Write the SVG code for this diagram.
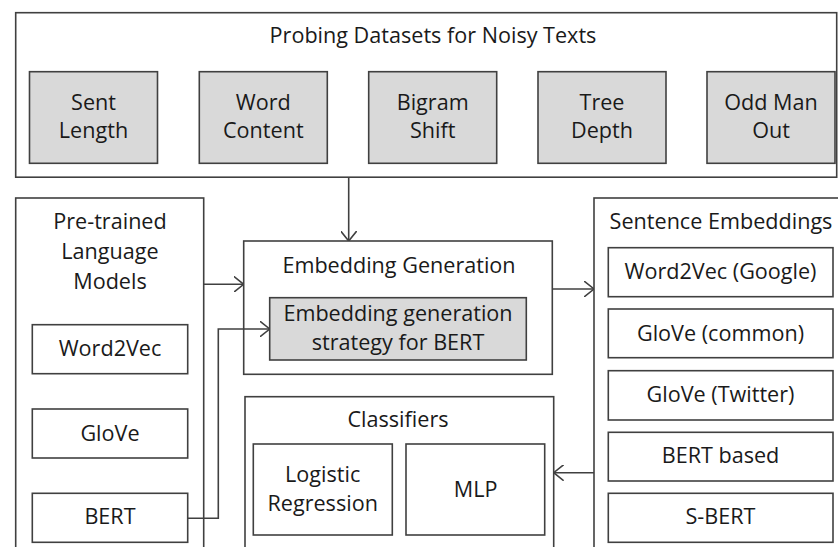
<svg xmlns="http://www.w3.org/2000/svg" width="838" height="547" viewBox="0 0 838 547">
<style>
.box{fill:#fff;stroke:#404040;stroke-width:1.6}
.gray{fill:#d9d9d9;stroke:#404040;stroke-width:1.6}
.t{font-family:"Open Sans","Liberation Sans",sans-serif;font-size:21.6px;fill:#1a1a1a;text-anchor:middle}
.c{fill:none;stroke:#404040;stroke-width:1.6}
</style>
<defs>
<marker id="ah" viewBox="0 0 10 16" refX="10" refY="8" markerWidth="10" markerHeight="16" markerUnits="userSpaceOnUse" orient="auto">
<path d="M0,0 L10,8 L0,16" fill="none" stroke="#404040" stroke-width="1.6"/>
</marker>
</defs>
<rect width="838" height="547" fill="#fff"/>
<g id="probing">
<rect class="box" x="15.7" y="12.7" width="821" height="164.5"/>
<text class="t" x="433" y="43">Probing Datasets for Noisy Texts</text>
</g>
<g id="sent-length"><rect class="gray" x="29.5" y="71.7" width="128" height="91.6"/><text class="t" x="93.5" y="110">Sent</text><text class="t" x="93.5" y="138">Length</text></g>
<g id="word-content"><rect class="gray" x="199.3" y="71.7" width="128" height="91.6"/><text class="t" x="263.3" y="110">Word</text><text class="t" x="263.3" y="138">Content</text></g>
<g id="bigram-shift"><rect class="gray" x="368.7" y="71.7" width="128" height="91.6"/><text class="t" x="432.7" y="110">Bigram</text><text class="t" x="432.7" y="138">Shift</text></g>
<g id="tree-depth"><rect class="gray" x="538" y="71.7" width="128" height="91.6"/><text class="t" x="602" y="110">Tree</text><text class="t" x="602" y="138">Depth</text></g>
<g id="odd-man-out"><rect class="gray" x="707" y="71.7" width="128" height="91.6"/><text class="t" x="771" y="110">Odd Man</text><text class="t" x="771" y="138">Out</text></g>

<g id="pretrained">
<rect class="box" x="15.7" y="198" width="188" height="360"/>
<text class="t" x="110" y="229">Pre-trained</text>
<text class="t" x="110" y="259">Language</text>
<text class="t" x="110" y="289">Models</text>
</g>
<g id="word2vec"><rect class="box" x="32.3" y="324.7" width="155.4" height="49"/><text class="t" x="110" y="356">Word2Vec</text></g>
<g id="glove"><rect class="box" x="32.3" y="409" width="155.4" height="49"/><text class="t" x="110" y="441">GloVe</text></g>
<g id="bert"><rect class="box" x="32.3" y="493.3" width="155.4" height="49"/><text class="t" x="110" y="524">BERT</text></g>

<g id="embedding-generation">
<rect class="box" x="243.7" y="241" width="308.6" height="133.3"/>
<text class="t" x="399" y="273">Embedding Generation</text>
</g>
<g id="embedding-strategy">
<rect class="gray" x="269.7" y="297.7" width="256.6" height="62.3"/>
<text class="t" x="398" y="321">Embedding generation</text>
<text class="t" x="398" y="350">strategy for BERT</text>
</g>

<g id="classifiers">
<rect class="box" x="245" y="396.7" width="308.7" height="165"/>
<text class="t" x="398" y="427">Classifiers</text>
</g>
<g id="logistic-regression"><rect class="box" x="253.3" y="444" width="139" height="91"/><text class="t" x="322.7" y="482">Logistic</text><text class="t" x="322.7" y="511">Regression</text></g>
<g id="mlp"><rect class="box" x="406" y="444" width="138.7" height="91"/><text class="t" x="475.7" y="497">MLP</text></g>

<g id="sentence-embeddings">
<rect class="box" x="594" y="198" width="260" height="360"/>
<text class="t" x="721" y="229">Sentence Embeddings</text>
</g>
<g id="se-word2vec"><rect class="box" x="608.3" y="247.7" width="224.7" height="49"/><text class="t" x="720.5" y="279">Word2Vec (Google)</text></g>
<g id="se-glove-common"><rect class="box" x="608.3" y="309" width="224.7" height="48.7"/><text class="t" x="720.5" y="341">GloVe (common)</text></g>
<g id="se-glove-twitter"><rect class="box" x="608.3" y="370.7" width="224.7" height="49.3"/><text class="t" x="720.5" y="402">GloVe (Twitter)</text></g>
<g id="se-bert-based"><rect class="box" x="608.3" y="432.3" width="224.7" height="48.7"/><text class="t" x="720.5" y="463">BERT based</text></g>
<g id="se-sbert"><rect class="box" x="608.3" y="493.3" width="224.7" height="49"/><text class="t" x="720.5" y="524">S-BERT</text></g>

<g id="connectors">
<path class="c" d="M348.7,177.2 L348.7,241" marker-end="url(#ah)"/>
<path class="c" d="M203.7,284.3 L243.7,284.3" marker-end="url(#ah)"/>
<path class="c" d="M187.7,518.3 L218.3,518.3 L218.3,329 L269.7,329" marker-end="url(#ah)"/>
<path class="c" d="M552.3,289 L594,289" marker-end="url(#ah)"/>
<path class="c" d="M594,472.7 L553.7,472.7" marker-end="url(#ah)"/>
</g>
</svg>
